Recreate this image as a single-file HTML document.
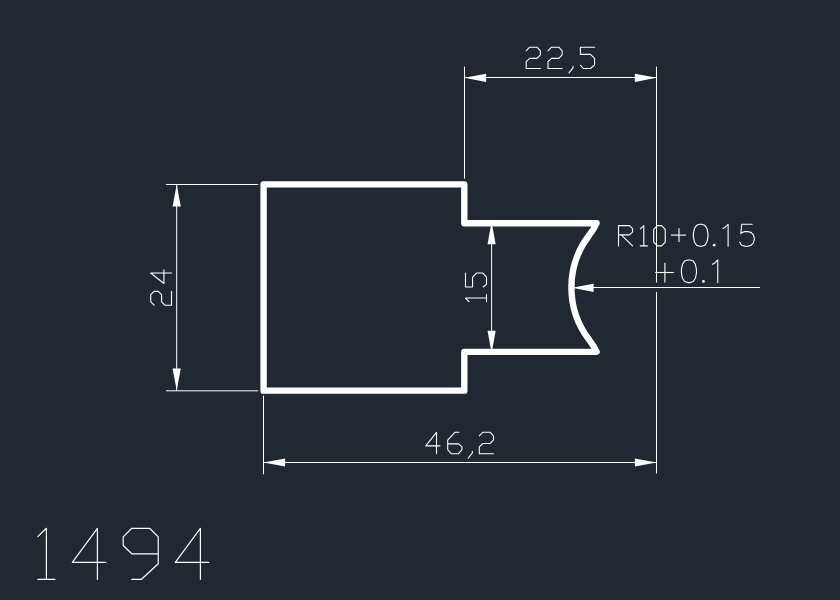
<!DOCTYPE html>
<html><head><meta charset="utf-8"><title>1494</title>
<style>
html,body{margin:0;padding:0;background:#222832;}
body{width:840px;height:600px;overflow:hidden;font-family:"Liberation Sans",sans-serif;}
svg{display:block}
</style></head>
<body>
<svg width="840" height="600" viewBox="0 0 840 600">
<rect x="0" y="0" width="840" height="600" fill="#222832"/>
<g fill="none" stroke="#ffffff" stroke-linecap="butt" stroke-linejoin="miter">
<path d="M263.6,184.35 H464.3 V223.2 H596.6 L593.5,229.0 L588.95,235.5 A85.8,85.8 0 0 0 588.95,339.5 L593.5,346.0 L596.6,351.8 H464.3 V390.65 H263.6 Z" stroke-width="6.35" stroke-linejoin="round" stroke-linecap="round"/>
<line x1="166" y1="184.5" x2="258.2" y2="184.5" stroke-width="1.0" />
<line x1="166" y1="390.8" x2="258.2" y2="390.8" stroke-width="1.0" />
<line x1="176.7" y1="184.5" x2="176.7" y2="390.5" stroke-width="1.0" />
<polygon points="176.7,184.4 180.8,206.4 172.6,206.4" fill="#ffffff" stroke="none"/>
<polygon points="176.7,390.6 172.6,368.6 180.8,368.6" fill="#ffffff" stroke="none"/>
<g stroke-width="1.163" stroke-linejoin="round" stroke-linecap="round"><path transform="translate(150.7,305.2) rotate(-90) scale(0.9219,0.9455)" d="M0,3.7 L3.6,0 H11.5 L15,3.7 V7.9 L11.5,11.5 H3.7 L0,15 V22 H15"/><path transform="translate(150.7,283.5) rotate(-90) scale(0.9219,0.9455)" d="M11.4,22 V0 L0,14.0 H15"/></g>
<line x1="491.6" y1="223" x2="491.6" y2="352" stroke-width="1.0" />
<polygon points="491.6,222.3 495.7,244.3 487.5,244.3" fill="#ffffff" stroke="none"/>
<polygon points="491.6,352.7 487.5,330.7 495.7,330.7" fill="#ffffff" stroke="none"/>
<g stroke-width="1.152" stroke-linejoin="round" stroke-linecap="round"><path transform="translate(465.5,301.6) rotate(-90) scale(0.9306,0.9545)" d="M0,22 H7.6 M3.8,22 V0 L0,3.6"/><path transform="translate(465.5,287.0) rotate(-90) scale(0.9306,0.9545)" d="M15,0 H0 V7.4 H10.7 L15,11.6 V18.2 L10.7,22 H3.1 L0,18.6"/></g>
<line x1="464.5" y1="66.6" x2="464.5" y2="178.6" stroke-width="1.0" />
<line x1="656.5" y1="66.6" x2="656.5" y2="282.5" stroke-width="1.0" />
<line x1="656.5" y1="292" x2="656.5" y2="473.5" stroke-width="1.0" />
<line x1="464.5" y1="77.5" x2="656.5" y2="77.5" stroke-width="1.0" />
<polygon points="464.5,77.8 486.1,73.7 486.1,81.9" fill="#ffffff" stroke="none"/>
<polygon points="656.5,77.8 634.9,81.9 634.9,73.7" fill="#ffffff" stroke="none"/>
<g stroke-width="1.136" stroke-linejoin="round" stroke-linecap="round"><path transform="translate(526.2,47.2) scale(0.944,0.9682)" d="M0,3.7 L3.6,0 H11.5 L15,3.7 V7.9 L11.5,11.5 H3.7 L0,15 V22 H15"/><path transform="translate(548.0,47.2) scale(0.944,0.9682)" d="M0,3.7 L3.6,0 H11.5 L15,3.7 V7.9 L11.5,11.5 H3.7 L0,15 V22 H15"/><path transform="translate(569.9,47.2) scale(0.944,0.9682)" d="M3.3,19.6 V21.3 L-1,26.6"/><path transform="translate(580.4,47.2) scale(0.944,0.9682)" d="M15,0 H0 V7.4 H10.7 L15,11.6 V18.2 L10.7,22 H3.1 L0,18.6"/></g>
<line x1="263.5" y1="395.6" x2="263.5" y2="474.3" stroke-width="1.0" />
<line x1="263.5" y1="462.5" x2="656.5" y2="462.5" stroke-width="1.0" />
<polygon points="263.5,462.5 285.1,458.4 285.1,466.6" fill="#ffffff" stroke="none"/>
<polygon points="656.5,462.5 634.9,466.6 634.9,458.4" fill="#ffffff" stroke="none"/>
<g stroke-width="1.131" stroke-linejoin="round" stroke-linecap="round"><path transform="translate(425.7,432.3) scale(0.9484,0.9727)" d="M11.4,22 V0 L0,14.0 H15"/><path transform="translate(447.7,432.3) scale(0.9484,0.9727)" d="M11.9,0 H7.6 L0,8 V17.8 L3.7,22 H11.3 L15,17.8 V15 L11.6,11.9 H0"/><path transform="translate(469.2,432.3) scale(0.9484,0.9727)" d="M3.3,19.6 V21.3 L-1,26.6"/><path transform="translate(479.3,432.3) scale(0.9484,0.9727)" d="M0,3.7 L3.6,0 H11.5 L15,3.7 V7.9 L11.5,11.5 H3.7 L0,15 V22 H15"/></g>
<line x1="592" y1="287.5" x2="760" y2="287.5" stroke-width="1.0" />
<polygon points="572,287.8 593.6,283.7 593.6,291.9" fill="#ffffff" stroke="none"/>
<g stroke-width="1.192" stroke-linejoin="round" stroke-linecap="round"><path transform="translate(618.5,225.6) scale(0.9227,0.9227)" d="M0,22 V0 H11.9 L15.2,3.3 V7 L11.7,10 H0 M3,10 L15.2,22"/><path transform="translate(640.3,225.6) scale(0.9227,0.9227)" d="M0,22 H7.6 M3.8,22 V0 L0,3.6"/><path transform="translate(653.7,225.6) scale(0.9227,0.9227)" d="M4,0 H8.5 L12.5,4.2 V17.8 L8.5,22 H4 L0,17.8 V4.2 Z"/></g>
<line x1="671" y1="235.1" x2="686" y2="235.1" stroke-width="1.1" />
<line x1="679.0" y1="228.2" x2="679.0" y2="242.1" stroke-width="1.1" />
<path d="M699.66,224.3 L696.53,225.34 L694.44,228.47 L693.4,233.69 L693.4,236.81 L694.44,242.03 L696.53,245.16 L699.66,246.2 L701.74,246.2 L704.87,245.16 L706.96,242.03 L708.0,236.81 L708.0,233.69 L706.96,228.47 L704.87,225.34 L701.74,224.3 L699.66,224.3" stroke-width="1.1" stroke-linejoin="round" stroke-linecap="round"/>
<circle cx="714.2" cy="245.2" r="1.4" fill="#ffffff" stroke="none"/>
<path d="M722.9,228.47 L724.99,227.43 L728.11,224.3 L728.11,246.2" stroke-width="1.1" stroke-linejoin="round" stroke-linecap="round"/>
<path d="M752.21,224.3 L741.79,224.3 L740.74,233.69 L741.79,232.64 L744.91,231.6 L748.04,231.6 L751.17,232.64 L753.26,234.73 L754.3,237.86 L754.3,239.94 L753.26,243.07 L751.17,245.16 L748.04,246.2 L744.91,246.2 L741.79,245.16 L740.74,244.11 L739.7,242.03" stroke-width="1.1" stroke-linejoin="round" stroke-linecap="round"/>
<line x1="655.2" y1="272.5" x2="673.9" y2="272.5" stroke-width="1.1" />
<line x1="664.9" y1="262.7" x2="664.9" y2="282.6" stroke-width="1.1" />
<path d="M687.86,260.0 L684.63,261.08 L682.48,264.3 L681.4,269.69 L681.4,272.91 L682.48,278.3 L684.63,281.52 L687.86,282.6 L690.01,282.6 L693.24,281.52 L695.39,278.3 L696.47,272.91 L696.47,269.69 L695.39,264.3 L693.24,261.08 L690.01,260.0 L687.86,260.0" stroke-width="1.1" stroke-linejoin="round" stroke-linecap="round"/>
<circle cx="703.4" cy="281.4" r="1.4" fill="#ffffff" stroke="none"/>
<path d="M712.4,264.3 L714.55,263.23 L717.78,260.0 L717.78,282.6" stroke-width="1.1" stroke-linejoin="round" stroke-linecap="round"/>
<g stroke-width="0.518" stroke-linejoin="round" stroke-linecap="round"><path transform="translate(37.8,528.3) scale(2.2602,2.3182)" d="M0,22 H7.6 M3.8,22 V0 L0,3.6"/><path transform="translate(72.3,528.3) scale(2.2602,2.3182)" d="M11.1,22 V0 L0,14.7 H14.8"/><path transform="translate(123.2,528.3) scale(2.2602,2.3182)" d="M3.8,22 H8.1 L15.5,15.3 V3.7 L11.7,0 H3.8 L0,3.7 V7.4 L3.8,11 H15.5"/><path transform="translate(175.3,528.3) scale(2.2602,2.3182)" d="M11.1,22 V0 L0,14.7 H14.8"/></g>
</g>
</svg>
</body></html>
